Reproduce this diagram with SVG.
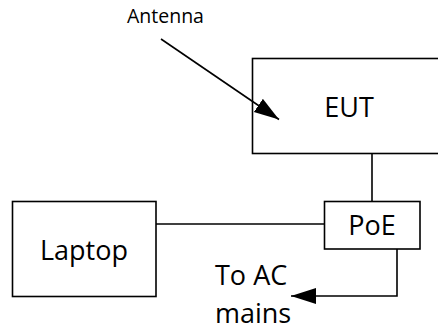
<svg xmlns="http://www.w3.org/2000/svg" width="438" height="333" viewBox="0 0 438 333">
<style>
.box{fill:#fff;stroke:#000;stroke-width:1.6}
.ln{fill:none;stroke:#000;stroke-width:1.6}
.t{font-family:"Open Sans","Noto Sans",sans-serif;fill:#000}
.big{font-size:27px}
.sm{font-size:19.5px}
</style>
<defs>
<marker id="ah" markerUnits="userSpaceOnUse" markerWidth="26" markerHeight="18" refX="25" refY="8" orient="auto">
<path d="M0,0 L25,8 L0,16 Z" fill="#000"/>
</marker>
</defs>
<rect width="438" height="333" fill="#fff"/>
<g id="antenna-label">
<text class="t sm" x="127" y="23">Antenna</text>
</g>
<g id="eut">
<rect class="box" x="252.5" y="58.5" width="200" height="95"/>
<text class="t big" x="349" y="117" text-anchor="middle">EUT</text>
</g>
<g id="laptop">
<rect class="box" x="12.5" y="201.5" width="143.5" height="95"/>
<text class="t big" x="84" y="259.5" text-anchor="middle">Laptop</text>
</g>
<g id="poe">
<rect class="box" x="324.5" y="201.5" width="95.5" height="47.5"/>
<text class="t big" x="372" y="235" text-anchor="middle">PoE</text>
</g>
<g id="ac-mains">
<text class="t big" x="215" y="285">To AC</text>
<text class="t big" x="215" y="322.5">mains</text>
</g>
<g id="connectors">
<line class="ln" x1="372" y1="153" x2="372" y2="201"/>
<line class="ln" x1="156" y1="224" x2="324" y2="224"/>
<polyline class="ln" points="397,249 397,296 291,296" marker-end="url(#ah)"/>
<line class="ln" x1="161" y1="39" x2="279" y2="119.5" marker-end="url(#ah)"/>
</g>
</svg>
